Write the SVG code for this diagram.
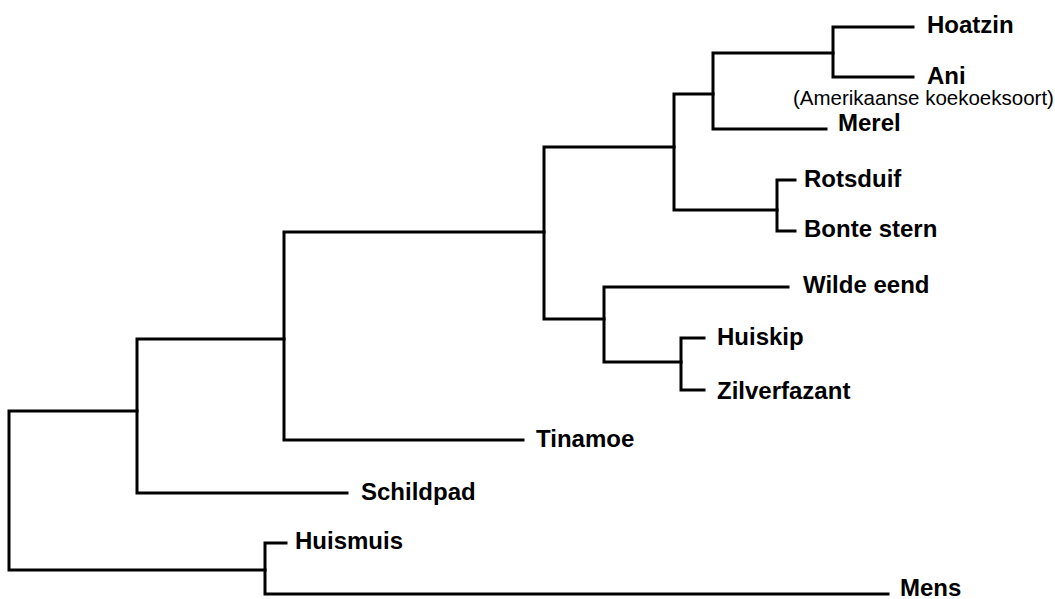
<svg xmlns="http://www.w3.org/2000/svg" width="1055" height="599" viewBox="0 0 1055 599">
<style>
.c{fill:none;stroke:#000;stroke-width:3;stroke-linejoin:miter;stroke-linecap:square}
.t{font-family:"Liberation Sans",Arial,sans-serif;font-weight:bold;font-size:24px;fill:#000}
.s{font-family:"Liberation Sans",Arial,sans-serif;font-size:20.5px;fill:#000}
</style>
<rect width="1055" height="599" fill="#fff"/>
<g id="connectors">
<path class="c" d="M137 411 H9 V570 H265"/>
<path class="c" d="M284 339 H137 V493 H347"/>
<path class="c" d="M544 232 H284 V440 H523"/>
<path class="c" d="M674 147 H544 V319 H604"/>
<path class="c" d="M713 94 H674 V210 H777"/>
<path class="c" d="M833 53 H713 V129 H826"/>
<path class="c" d="M913 27 H833 V77 H913"/>
<path class="c" d="M795 180 H777 V231 H795"/>
<path class="c" d="M788 287 H604 V362 H681"/>
<path class="c" d="M704 338 H681 V390 H704"/>
<path class="c" d="M286 543 H265 V594 H888"/>
</g>
<g id="hoatzin"><text class="t" x="927" y="33">Hoatzin</text></g>
<g id="ani"><text class="t" x="927" y="84">Ani</text><text class="s" x="793" y="105">(Amerikaanse koekoeksoort)</text></g>
<g id="merel"><text class="t" x="838" y="131">Merel</text></g>
<g id="rotsduif"><text class="t" x="804" y="187">Rotsduif</text></g>
<g id="bonte-stern"><text class="t" x="804" y="237">Bonte stern</text></g>
<g id="wilde-eend"><text class="t" x="803" y="293">Wilde eend</text></g>
<g id="huiskip"><text class="t" x="717" y="345">Huiskip</text></g>
<g id="zilverfazant"><text class="t" x="717" y="399">Zilverfazant</text></g>
<g id="tinamoe"><text class="t" x="536" y="447">Tinamoe</text></g>
<g id="schildpad"><text class="t" x="361" y="500">Schildpad</text></g>
<g id="huismuis"><text class="t" x="295" y="549">Huismuis</text></g>
<g id="mens"><text class="t" x="900" y="596">Mens</text></g>
</svg>
